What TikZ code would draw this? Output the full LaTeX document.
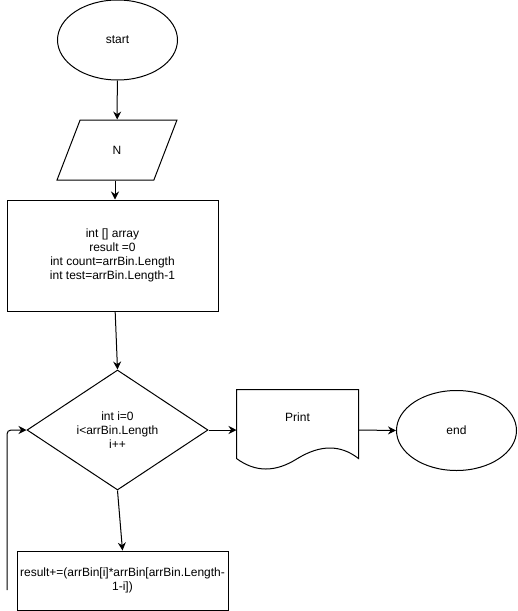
\documentclass[tikz,border=0pt]{standalone}
\usepackage{fontspec}
\setmainfont{Liberation Sans}
\usetikzlibrary{shapes.geometric,arrows.meta}

\begin{document}
\begin{tikzpicture}[
    x=0.75pt,
    y=-0.75pt,
    line width=0.75pt,
    font=\fontsize{9pt}{10.5pt}\selectfont,
    every node/.style={draw,align=center,inner sep=1pt},
    terminal/.style={ellipse,minimum width=90pt,minimum height=60pt},
    inputbox/.style={trapezium,trapezium left angle=72,trapezium right angle=108,
      trapezium stretches=true,minimum width=90pt,minimum height=45pt},
    procbox/.style={rectangle,minimum width=158.25pt},
    loopbox/.style={diamond,minimum width=135.75pt,minimum height=90pt,inner sep=0pt},
    printbox/.style={rectangle,draw=none,minimum width=90.75pt,minimum height=51pt,text depth=10pt},
    flow/.style={-{Stealth[length=6pt,width=6pt,inset=2pt]}},
  ]
  \useasboundingbox (0,0) rectangle (518,611);

  \node[terminal] (start) at (117.5,40) {start};
  \node[inputbox] (n) at (117,150) {N};
  \node[procbox,minimum height=83.25pt] (init) at (112.5,255.5)
    {int [] array\\result =0\\int count=arrBin.Length\\int test=arrBin.Length-1};
  \node[loopbox] (cond) at (117.5,430) {int i=0\\i<arrBin.Length\\i++};
  \node[printbox] (print) at (297.5,424) {Print};
  \node[terminal] (end) at (456.5,430.5) {end};
  \node[procbox,minimum height=44.25pt] (body) at (122.5,580.5)
    {result+=(arrBin[i]*arrBin[arrBin.Length-\\1-i])};
  \coordinate (back) at (7,590);

  % document outline with wavy bottom
  \draw (print.south west) -- (print.north west) -- (print.north east) -- (print.south east)
    .. controls ([xshift=-13.5pt,yshift=10.5pt]print.south east) and ([xshift=-28.5pt,yshift=10.5pt]print.south east) .. (print.south)
    .. controls ([xshift=-16.5pt,yshift=-10.5pt]print.south) and ([xshift=-31.5pt,yshift=-10.5pt]print.south) .. (print.south west);

  \draw[flow] (start) -- (n);
  \draw[flow] ([xshift=-1.5pt]n.south) -- ([xshift=-1.5pt]n.south |- init.north);
  \draw[flow] ([xshift=2pt]init.south) -- (cond.north);
  \draw[flow] (cond.east) -- (print.west |- cond.east);
  \draw[flow] (print.east |- cond.east) -- (end.west);
  \draw[flow] (cond.south) -- (body.north);
  \draw[flow,rounded corners=3pt] (back) |- (cond.west);
\end{tikzpicture}
\end{document}
